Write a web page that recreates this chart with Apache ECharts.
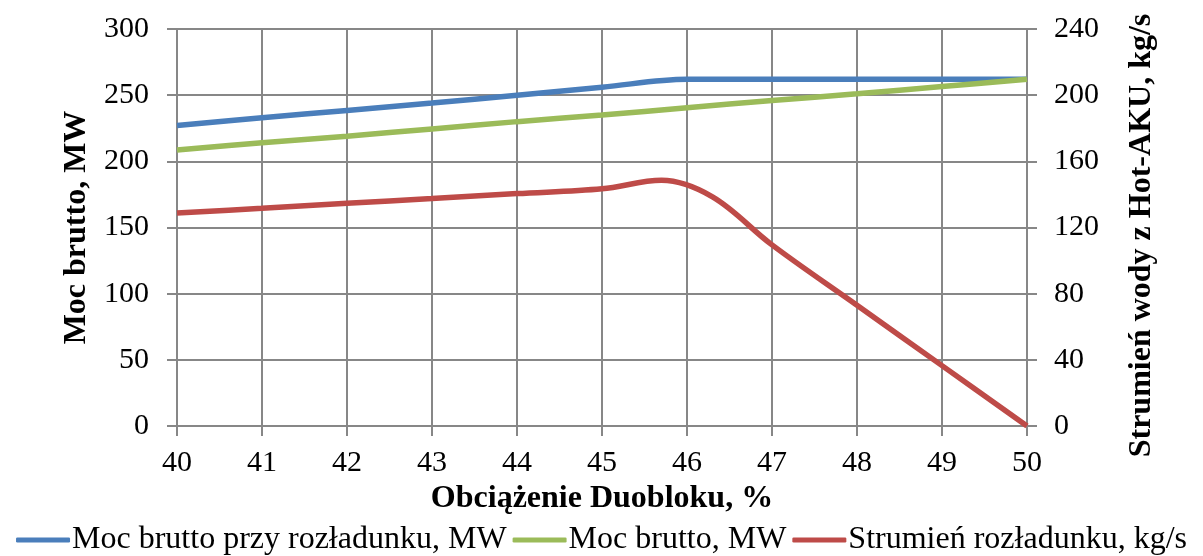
<!DOCTYPE html>
<html>
<head>
<meta charset="utf-8">
<script src="https://cdn.jsdelivr.net/npm/echarts@6/dist/echarts.min.js"></script>
<style>
  html, body { margin: 0; padding: 0; background: #fff; }
  #chart { width: 1203px; height: 556px; }
</style>
</head>
<body>
<div id="chart"></div>
<script>
// Duoblok load, %
const loadPct = [40, 41, 42, 43, 44, 45, 46, 47, 48, 49, 50];
// Gross power during discharge, MW
const powerDischarge = [227, 233, 238.5, 244, 250, 256, 262, 262, 262, 262, 262];
// Gross power, MW
const powerGross = [208.5, 214, 219, 224.5, 230, 235, 240.5, 246, 251, 256.5, 262];
// Discharge water flow from Hot-AKU, kg/s (extra readings around the crest)
const flowLoad = [40, 41, 42, 43, 44, 45, 45.7, 46.3, 47, 48, 49, 50];
const dischargeFlow = [128.7, 131.6, 134.6, 137.5, 140.5, 143.4, 148.5, 138.5, 109.5, 73, 36.5, 0];

const FONT = "'Liberation Serif', 'Times New Roman', serif";
const GRID = '#878787';

const pairs = (xs, ys) => xs.map((x, i) => [x, ys[i]]);

const chart = echarts.init(document.getElementById('chart'), null, { renderer: 'canvas' });

const tickLabel = { color: '#000', fontFamily: FONT, fontSize: 30 };
const nameStyle = { color: '#000', fontFamily: FONT, fontSize: 32, fontWeight: 'bold' };
const axisLine = { show: true, lineStyle: { color: GRID, width: 2 } };
const axisTick = { show: true, length: 10, lineStyle: { color: GRID, width: 2 } };

chart.setOption({
  animation: false,
  backgroundColor: '#fff',
  grid: { left: 177, right: 176, top: 29, bottom: 130 },
  legend: {
    top: 519,
    left: 'center',
    icon: 'roundRect',
    itemWidth: 54,
    itemHeight: 5,
    itemGap: 6,
    textStyle: { color: '#000', fontFamily: FONT, fontSize: 32, padding: [0, 0, 0, -3] },
    data: ['Moc brutto przy rozładunku, MW', 'Moc brutto, MW', 'Strumień rozładunku, kg/s']
  },
  xAxis: {
    type: 'value',
    min: 40, max: 50, interval: 1,
    name: 'Obciążenie Duobloku, %',
    nameLocation: 'middle',
    nameGap: 55,
    nameTextStyle: nameStyle,
    axisLine: axisLine,
    axisTick: axisTick,
    axisLabel: Object.assign({ margin: 22 }, tickLabel),
    splitLine: { show: true, lineStyle: { color: GRID, width: 2 } }
  },
  yAxis: [
    {
      type: 'value',
      min: 0, max: 300, interval: 50,
      name: 'Moc brutto, MW',
      nameLocation: 'middle',
      nameGap: 80,
      nameTextStyle: nameStyle,
      axisLine: axisLine,
      axisTick: axisTick,
      axisLabel: Object.assign({ margin: 28 }, tickLabel),
      splitLine: { show: true, lineStyle: { color: GRID, width: 2 } }
    },
    {
      type: 'value',
      min: 0, max: 240, interval: 40,
      name: 'Strumień wody z Hot-AKU, kg/s',
      nameLocation: 'middle',
      nameGap: 99,
      nameTextStyle: Object.assign({ padding: [0, 16, 0, 0] }, nameStyle),
      axisLine: axisLine,
      axisTick: axisTick,
      axisLabel: Object.assign({ margin: 27 }, tickLabel),
      splitLine: { show: false }
    }
  ],
  series: [
    {
      name: 'Moc brutto przy rozładunku, MW',
      type: 'line',
      yAxisIndex: 0,
      data: pairs(loadPct, powerDischarge),
      smooth: 0.35,
      symbol: 'none',
      lineStyle: { color: '#4A7EBB', width: 5.5 },
      itemStyle: { color: '#4A7EBB' }
    },
    {
      name: 'Moc brutto, MW',
      type: 'line',
      yAxisIndex: 0,
      data: pairs(loadPct, powerGross),
      smooth: 0.35,
      symbol: 'none',
      lineStyle: { color: '#9BBB59', width: 5.5 },
      itemStyle: { color: '#9BBB59' }
    },
    {
      name: 'Strumień rozładunku, kg/s',
      type: 'line',
      yAxisIndex: 1,
      data: pairs(flowLoad, dischargeFlow),
      smooth: 0.35,
      symbol: 'none',
      lineStyle: { color: '#BE4B48', width: 5.5 },
      itemStyle: { color: '#BE4B48' }
    }
  ]
});
</script>
</body>
</html>
